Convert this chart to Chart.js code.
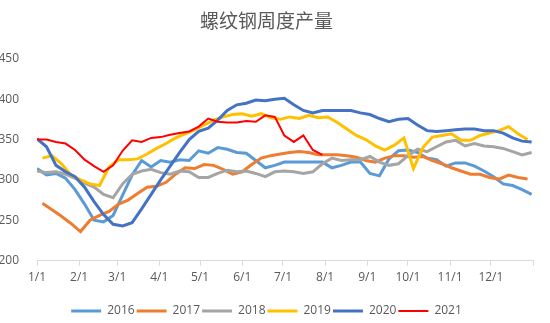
<!DOCTYPE html>
<html>
<head>
<meta charset="utf-8">
<script src="https://cdn.jsdelivr.net/npm/chart.js@4/dist/chart.umd.min.js"></script>
<style>
  html, body { margin: 0; padding: 0; background: #fff; }
  #wrap { width: 550px; height: 323px; position: relative; }
</style>
</head>
<body>
<div id="wrap"><canvas id="c"></canvas></div>
<script>
// --- DATA ---
const title = '螺纹钢周度产量';
const monthLabels = ['1/1','2/1','3/1','4/1','5/1','6/1','7/1','8/1','9/1','10/1','11/1','12/1'];
const monthDays = [0, 31, 59, 90, 120, 151, 181, 212, 243, 273, 304, 334, 365];
const yTicks = [200, 250, 300, 350, 400, 450];

const years = ['2016', '2017', '2018', '2019', '2020', '2021'];
const colors = ['#5B9BD5', '#ED7D31', '#A5A5A5', '#FFC000', '#4472C4', '#FF0000'];
const firstDay = [0, 4, 0, 4, 0, 0];   // day of year of each series' first week

const s2016 = [314,306,308,302,288,270,250,248,256,281,306,324,316,324,322,325,324,336,333,340,338,334,333,324,315,318,
  322,322,322,322,322,315,318,322,322,308,305,326,336,337,334,327,325,317,321,321,317,311,304,295,293,288,282];
const s2017 = [271,263,255,246,236,250,256,261,270,275,283,291,292,297,307,315,314,319,318,313,307,310,319,327,330,332,
  334,335,334,331,331,331,330,328,324,322,327,330,330,328,329,324,320,315,311,307,307,303,301,306,303,301];
const s2018 = [311,309,310,307,302,296,291,282,278,295,307,311,313,309,307,311,310,303,303,308,312,310,311,308,304,310,
  311,310,308,310,320,327,324,325,325,329,322,318,320,330,338,335,341,347,349,342,345,342,341,339,335,331,334];
const s2019 = [327,330,320,306,300,295,293,316,325,325,326,332,339,345,352,357,362,368,374,378,381,382,379,382,377,375,
  378,376,380,377,378,371,363,355,350,342,337,343,352,314,340,353,355,357,349,349,355,358,361,366,357,350];
const s2020 = [351,341,318,310,304,291,273,257,245,243,247,264,282,300,317,334,350,360,364,374,386,393,395,399,398,400,
  401,393,386,383,386,386,386,386,383,381,376,372,375,376,368,361,360,361,362,363,363,361,361,358,352,348,347];
const s2021 = [350,350,347,345,337,325,317,310,318,336,349,347,352,353,356,358,360,366,376,372,371,371,373,372,380,378,
  355,347,355,337,331];

const seriesValues = [s2016, s2017, s2018, s2019, s2020, s2021];
const lineWidths = [3, 3, 3, 3, 3, 2];

// --- CHART ---
const datasets = years.map((y, k) => ({
  label: y,
  data: seriesValues[k].map((v, i) => ({ x: firstDay[k] + 7 * i, y: v })),
  borderColor: colors[k],
  backgroundColor: colors[k],
  borderWidth: lineWidths[k],
  pointBorderWidth: lineWidths[k],
  pointRadius: 0,
  pointHoverRadius: 0,
  tension: 0,
  fill: false,
  order: years.length - k   // later years drawn on top
}));

const font = { family: "'Open Sans', sans-serif", size: 12 };

new Chart(document.getElementById('c'), {
  type: 'line',
  data: { datasets },
  options: {
    responsive: true,
    maintainAspectRatio: false,
    animation: false,
    layout: { padding: { left: 0, right: 17, top: 0, bottom: -4 } },
    plugins: {
      title: {
        display: true,
        text: title,
        color: '#595959',
        font: { family: "'Noto Sans CJK SC', sans-serif", size: 19, weight: 'normal' },
        padding: { top: 9, bottom: 27 }
      },
      legend: {
        position: 'bottom',
        labels: {
          color: '#595959',
          font,
          usePointStyle: true,
          pointStyle: 'line',
          pointStyleWidth: 30,
          padding: 2,
          sort: (a, b) => a.datasetIndex - b.datasetIndex
        }
      },
      tooltip: { enabled: false }
    },
    scales: {
      x: {
        type: 'linear',
        min: 0,
        max: 365,
        afterBuildTicks: axis => { axis.ticks = monthDays.map(v => ({ value: v })); },
        afterFit: axis => { axis.height += 13; },
        ticks: {
          color: '#595959',
          font,
          padding: 5,
          maxRotation: 0,
          autoSkip: false,
          callback: v => monthLabels[monthDays.indexOf(v)] || ''
        },
        grid: { display: true, drawOnChartArea: false, drawTicks: true, tickLength: 5, color: '#D9D9D9' },
        border: { display: true, color: '#D9D9D9' }
      },
      y: {
        min: 200,
        max: 450,
        afterBuildTicks: axis => { axis.ticks = yTicks.map(v => ({ value: v })); },
        afterFit: axis => { axis.width = 37; },
        ticks: { color: '#595959', font, padding: 10 },
        grid: { display: false },
        border: { display: false }
      }
    }
  }
});
</script>
</body>
</html>
